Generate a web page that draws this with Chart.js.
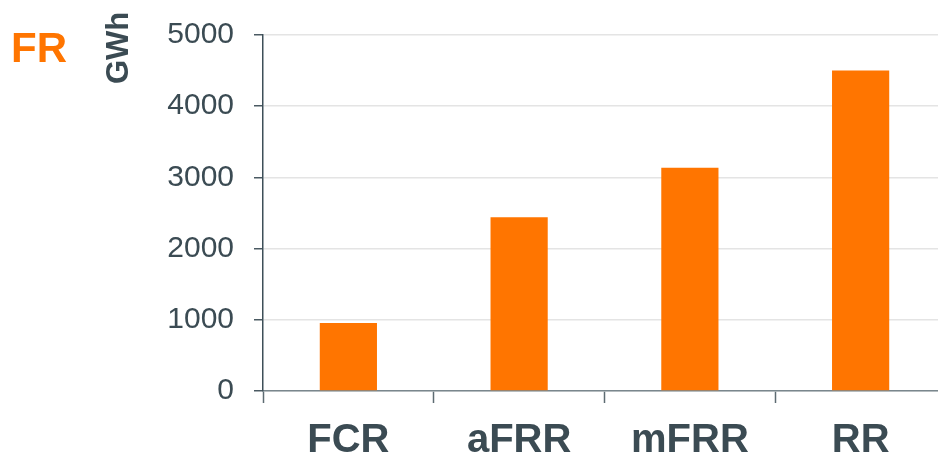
<!DOCTYPE html>
<html>
<head>
<meta charset="utf-8">
<script src="https://cdn.jsdelivr.net/npm/chart.js@4.4.1/dist/chart.umd.min.js"></script>
<style>
  html, body { margin: 0; padding: 0; background: #fff; overflow: hidden; }
  canvas { display: block; }
</style>
</head>
<body>
<canvas id="chart" width="946" height="458"></canvas>
<script>
const categories = ["FCR", "aFRR", "mFRR", "RR"];
const volumes = [955, 2440, 3135, 4500]; // GWh
const yTicks = [0, 1000, 2000, 3000, 4000, 5000];

const orange = "#ff7500";
const slate = "#3b4b53";

// "FR" heading and rotated "GWh" unit
const labelsPlugin = {
  id: "sideLabels",
  afterDraw(chart) {
    const ctx = chart.ctx;
    ctx.save();
    ctx.fillStyle = orange;
    ctx.font = "bold 42px 'Liberation Sans', Arial, sans-serif";
    ctx.textAlign = "left";
    ctx.textBaseline = "alphabetic";
    ctx.fillText("FR", 11, 62);

    ctx.translate(128, 84);
    ctx.rotate(-Math.PI / 2);
    ctx.fillStyle = slate;
    ctx.font = "bold 31px 'Liberation Sans', Arial, sans-serif";
    ctx.fillText("GWh", 0, 0);
    ctx.restore();
  },
};

new Chart(document.getElementById("chart"), {
  type: "bar",
  data: {
    labels: categories,
    datasets: [{
      data: volumes,
      backgroundColor: orange,
      borderWidth: 0,
      categoryPercentage: 1,
      barPercentage: 0.335,
    }],
  },
  options: {
    responsive: false,
    animation: false,
    layout: { padding: { top: 32, left: 0, right: 0, bottom: 0 } },
    plugins: { legend: { display: false }, tooltip: { enabled: false } },
    scales: {
      x: {
        grid: { offset: true, drawOnChartArea: false, tickColor: "#5d6b72", tickLength: 12, tickWidth: 1.5 },
        border: { color: "#7a878d", width: 1.5 },
        ticks: {
          color: slate,
          padding: 14,
          font: { family: "'Liberation Sans', Arial, sans-serif", size: 40, weight: "bold" },
        },
        afterFit(scale) { scale.height = 67; },
      },
      y: {
        min: 0,
        max: 5000,
        afterBuildTicks(scale) { scale.ticks = yTicks.map((v) => ({ value: v })); },
        grid: { color: "#e4e4e4", tickColor: "#4a5a62", tickLength: 9, lineWidth: 1.5 },
        border: { color: "#3d4f58", width: 1.5 },
        ticks: {
          color: slate,
          padding: 20,
          font: { family: "'Liberation Sans', Arial, sans-serif", size: 30, lineHeight: 1 },
          callback: (v) => String(v),
        },
        afterFit(scale) { scale.width = 263; },
      },
    },
  },
  plugins: [labelsPlugin],
});
</script>
</body>
</html>
